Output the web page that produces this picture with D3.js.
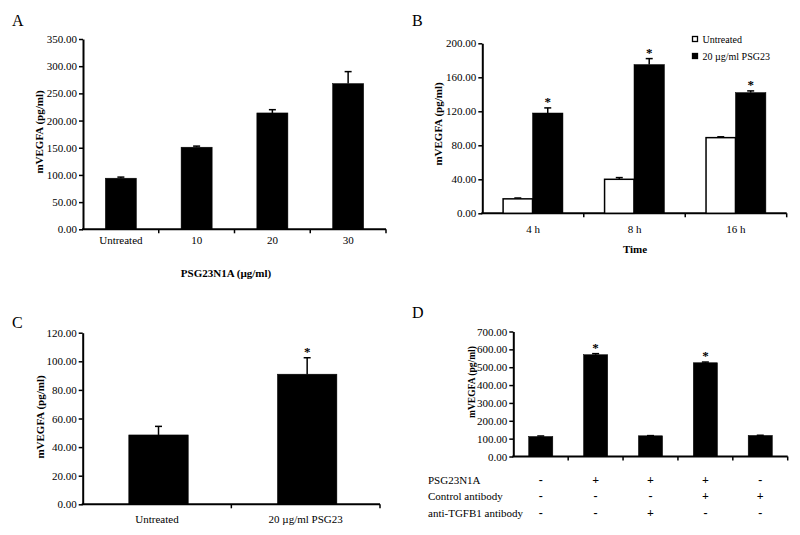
<!DOCTYPE html>
<html>
<head>
<meta charset="utf-8">
<script src="https://cdn.jsdelivr.net/npm/d3@7"></script>
<style>
  html, body { margin: 0; padding: 0; background: #fff; }
  svg { display: block; }
  text { font-family: "Liberation Serif", "Times New Roman", serif; fill: #000; }
</style>
</head>
<body>
<svg id="chart" width="800" height="535"></svg>
<script>
// ---------- DATA ----------
// Panel A
const aCategories = ["Untreated", "10", "20", "30"];
const aValues = [94, 151, 214, 268];
const aErrors = [2, 2, 6, 22];
const aTicks = [0, 50, 100, 150, 200, 250, 300, 350];

// Panel B
const bCategories = ["4 h", "8 h", "16 h"];
const bSeries = ["Untreated", "20 µg/ml PSG23"];
const bUntreated = [17, 40, 89];
const bUntreatedErr = [1, 2, 1];
const bTreated = [118, 175, 142];
const bTreatedErr = [6, 7, 2];
const bStars = [true, true, true];
const bTicks = [0, 40, 80, 120, 160, 200];

// Panel C
const cCategories = ["Untreated", "20 µg/ml PSG23"];
const cValues = [48.5, 91];
const cErrors = [6, 11.5];
const cStars = [false, true];
const cTicks = [0, 20, 40, 60, 80, 100, 120];

// Panel D
const dCategories = ["g1", "g2", "g3", "g4", "g5"];
const dValues = [112, 570, 116, 525, 118];
const dErrors = [3, 6, 1, 4, 1];
const dStars = [false, true, false, true, false];
const dTicks = [0, 100, 200, 300, 400, 500, 600, 700];
const dRowLabels = ["PSG23N1A", "Control antibody", "anti-TGFB1 antibody"];
const dRowPSG = ["-", "+", "+", "+", "-"];
const dRowControl = ["-", "-", "-", "+", "+"];
const dRowAnti = ["-", "-", "+", "-", "-"];

// ---------- DRAWING ----------
const svg = d3.select("#chart");
const fmt = d3.format(".2f");

function panel(o) {
  const g = svg.append("g");
  const x = d3.scaleBand().domain(o.categories).range([o.x0, o.x1]).paddingInner(0).paddingOuter(0);
  const y = d3.scaleLinear().domain([0, o.max]).range([o.y0, o.yTop]);

  // y axis
  const ya = g.append("g").attr("transform", `translate(${o.x0},0)`)
    .call(d3.axisLeft(y).tickValues(o.ticks).tickFormat(fmt).tickSize(4).tickPadding(2).tickSizeOuter(0));
  ya.select(".domain").attr("stroke", "#000").attr("stroke-width", 2);
  ya.selectAll(".tick line").attr("stroke", "#000").attr("stroke-width", 1.5);
  ya.selectAll(".tick text").attr("font-family", "Liberation Serif").attr("font-size", 11).attr("fill", "#000");

  // x axis line
  g.append("line").attr("x1", o.x0 - 1).attr("x2", o.x1).attr("y1", o.y0).attr("y2", o.y0)
    .attr("stroke", "#000").attr("stroke-width", 2);
  // boundary ticks
  const bounds = o.categories.map(c => x(c)).concat([o.x1]);
  g.selectAll(".bt").data(bounds.slice(1)).join("line")
    .attr("x1", d => d).attr("x2", d => d).attr("y1", o.y0).attr("y2", o.y0 + 4)
    .attr("stroke", "#000").attr("stroke-width", 1.5);

  // x labels
  if (o.showXLabels) {
    g.selectAll(".xl").data(o.categories).join("text")
      .attr("x", d => x(d) + x.bandwidth() / 2).attr("y", o.y0 + o.labelOffset)
      .attr("text-anchor", "middle").attr("font-size", 11).text(d => d);
  }

  // y title
  g.append("text")
    .attr("transform", `translate(${o.yTitleX},${o.yTitleY}) rotate(-90)`)
    .attr("text-anchor", "middle").attr("font-weight", "bold").attr("font-size", o.yTitleSize || 11)
    .text("mVEGFA (pg/ml)");

  // panel letter
  g.append("text").attr("x", o.letterX).attr("y", o.letterY).attr("font-size", 16).text(o.letter);

  return { g, x, y };
}

function bars(p, cats, values, errors, stars, frac, offset, fill) {
  const { g, x, y } = p;
  const bw = x.bandwidth() * frac;
  const cx = c => x(c) + x.bandwidth() / 2 + offset * x.bandwidth();
  cats.forEach((c, i) => {
    const v = values[i], e = errors[i];
    const xc = cx(c);
    // error bar (upper only)
    g.append("line").attr("x1", xc).attr("x2", xc).attr("y1", y(v)).attr("y2", y(v + e))
      .attr("stroke", "#000").attr("stroke-width", 1.5);
    g.append("line").attr("x1", xc - 3.5).attr("x2", xc + 3.5).attr("y1", y(v + e)).attr("y2", y(v + e))
      .attr("stroke", "#000").attr("stroke-width", 1.5);
    g.append("rect").attr("x", xc - bw / 2).attr("y", y(v)).attr("width", bw).attr("height", y(0) - y(v))
      .attr("fill", fill).attr("stroke", "#000").attr("stroke-width", fill === "#fff" ? 1.5 : 0.5);
    if (stars && stars[i]) {
      g.append("text").attr("x", xc).attr("y", y(v + e) - 8.5 + 6.5)
        .attr("text-anchor", "middle").attr("font-size", 13).attr("font-weight", "bold").text("*");
    }
  });
}

// Panel A
const pA = panel({ categories: aCategories, max: 350, ticks: aTicks, x0: 83, x1: 386, y0: 229.3, yTop: 39,
  showXLabels: true, labelOffset: 15, yTitleX: 43, yTitleY: 132, letter: "A", letterX: 12, letterY: 26 });
bars(pA, aCategories, aValues, aErrors, null, 0.41, 0, "#000");
pA.g.append("text").attr("x", 226).attr("y", 277).attr("text-anchor", "middle")
  .attr("font-weight", "bold").attr("font-size", 11).text("PSG23N1A (µg/ml)");

// Panel B
const pB = panel({ categories: bCategories, max: 200, ticks: bTicks, x0: 482.3, x1: 786.7, y0: 213.3, yTop: 43.3,
  showXLabels: true, labelOffset: 20, yTitleX: 442, yTitleY: 124, letter: "B", letterX: 412, letterY: 26 });
bars(pB, bCategories, bUntreated, bUntreatedErr, null, 0.29, -0.15, "#fff");
bars(pB, bCategories, bTreated, bTreatedErr, bStars, 0.3, 0.145, "#000");
pB.g.append("text").attr("x", 635).attr("y", 253).attr("text-anchor", "middle")
  .attr("font-weight", "bold").attr("font-size", 11).text("Time");
// legend
const leg = pB.g.append("g");
bSeries.forEach((s, i) => {
  const ly = 39 + i * 17;
  leg.append("rect").attr("x", 692.5).attr("y", ly - 2.5).attr("width", 5).attr("height", 5)
    .attr("fill", i === 0 ? "#fff" : "#000").attr("stroke", "#000").attr("stroke-width", 1.3);
  leg.append("text").attr("x", 702.5).attr("y", ly + 3.5).attr("font-family", "Liberation Sans")
    .attr("font-size", 10).text(s);
});

// Panel C
const pC = panel({ categories: cCategories, max: 120, ticks: cTicks, x0: 82.7, x1: 380, y0: 504.3, yTop: 332.7,
  showXLabels: true, labelOffset: 19, yTitleX: 44, yTitleY: 417, letter: "C", letterX: 12, letterY: 328 });
bars(pC, cCategories, cValues, cErrors, cStars, 0.4, 0.01, "#000");

// Panel D
const pD = panel({ categories: dCategories, max: 700, ticks: dTicks, x0: 513.3, x1: 787.7, y0: 456.5, yTop: 331.5,
  showXLabels: false, labelOffset: 0, yTitleX: 475, yTitleY: 382, yTitleSize: 9.5, letter: "D", letterX: 412, letterY: 318 });
bars(pD, dCategories, dValues, dErrors, dStars, 0.44, 0, "#000");
const dRows = [dRowPSG, dRowControl, dRowAnti];
dRows.forEach((row, r) => {
  const ry = 483.5 + r * 16.5;
  pD.g.append("text").attr("x", 428).attr("y", ry).attr("font-size", 11).text(dRowLabels[r]);
  row.forEach((s, i) => {
    pD.g.append("text").attr("x", pD.x(dCategories[i]) + pD.x.bandwidth() / 2).attr("y", ry)
      .attr("text-anchor", "middle").attr("font-size", 12).attr("font-weight", "bold").text(s);
  });
});
</script>
</body>
</html>
